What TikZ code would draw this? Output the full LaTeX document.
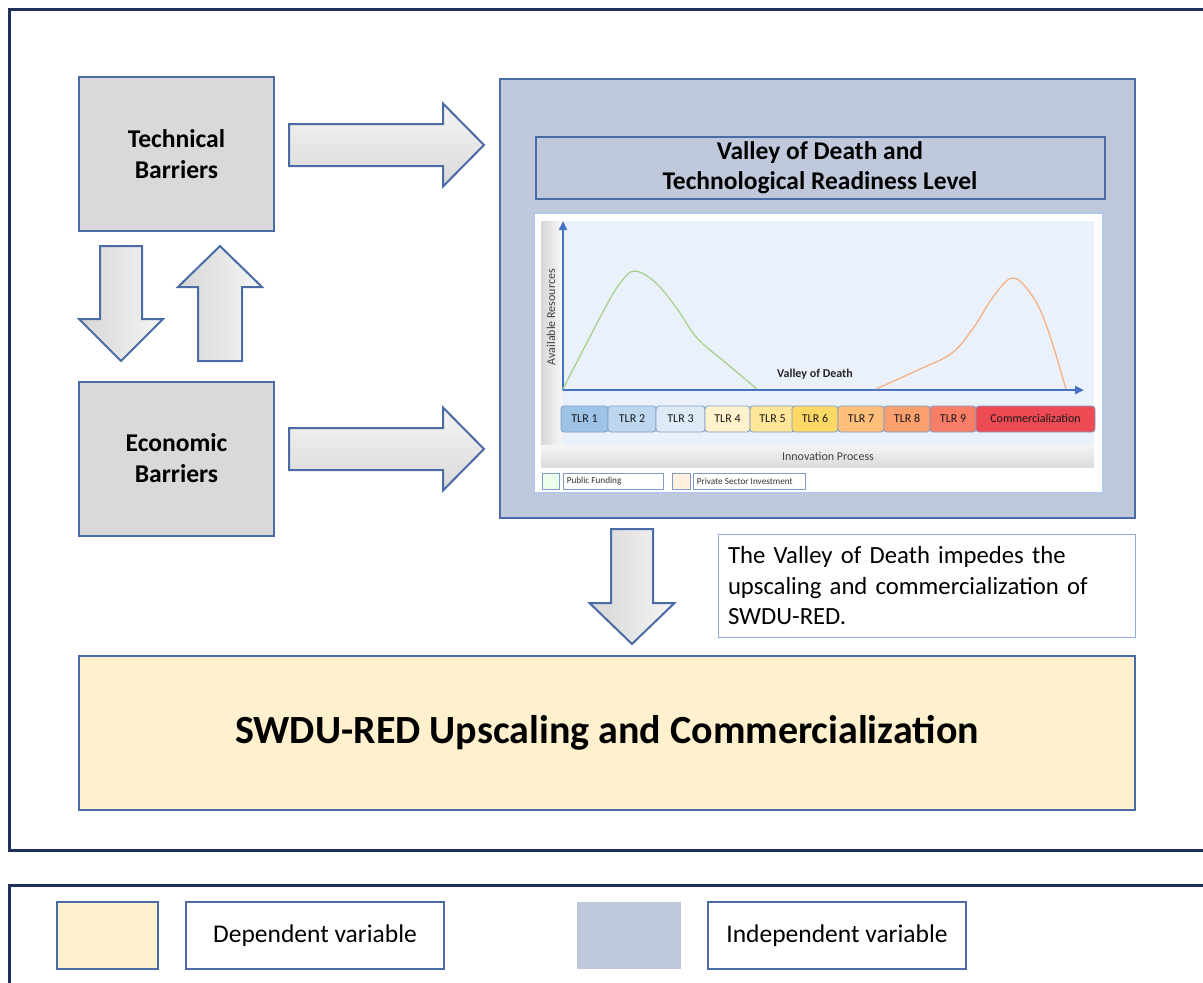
\documentclass[tikz,border=0pt]{standalone}
\usepackage{fontspec}
\setmainfont{Carlito}
\usetikzlibrary{calc,arrows.meta}

\definecolor{frameblue}{HTML}{1F3158}
\definecolor{boxline}{HTML}{4A6CA6}
\definecolor{indep}{HTML}{C0C9DC}
\definecolor{dep}{HTML}{FFF1CE}
\definecolor{barrier}{HTML}{D9D9D9}
\definecolor{noteline}{HTML}{8FAADC}
\definecolor{chartline}{HTML}{B4C7E7}
\definecolor{chartbg}{HTML}{EAF1FA}
\definecolor{axisblue}{HTML}{4472C4}
\definecolor{curvegreen}{HTML}{A9D18E}
\definecolor{curveorange}{HTML}{F4B183}
\definecolor{tlrline}{HTML}{7F9CC8}
\definecolor{tA}{HTML}{9DC3E6}
\definecolor{tB}{HTML}{BDD7EE}
\definecolor{tC}{HTML}{DEEBF7}
\definecolor{tD}{HTML}{FFF2CC}
\definecolor{tE}{HTML}{FFE699}
\definecolor{tF}{HTML}{FFD966}
\definecolor{tG}{HTML}{FFBE7A}
\definecolor{tH}{HTML}{FA9F6E}
\definecolor{tI}{HTML}{F97E67}
\definecolor{tJ}{HTML}{EE4A54}

% block arrow: [style]{tail}{tip}{shaft half width}{head half width}{head length}
\newcommand\blockarrow[6][]{%
  \coordinate (ba-h) at ($(#3)!#6!(#2)$);
  \draw[blockarrow,#1] ($(#2)!#4!90:(#3)$) -- ($(ba-h)!#4!-90:(#2)$)
    -- ($(ba-h)!#5!-90:(#2)$) -- (#3) -- ($(ba-h)!#5!90:(#2)$)
    -- ($(ba-h)!#4!90:(#2)$) -- ($(#2)!#4!-90:(#3)$) -- cycle;}

\begin{document}
\begin{tikzpicture}[x=1pt,y=-1pt,
  box/.style={draw=boxline,line width=2pt,inner sep=0pt,align=center},
  frame/.style={draw=frameblue,line width=3pt},
  blockarrow/.style={draw=boxline,line width=2pt,line join=miter},
  harrow/.style={top color=gray!8,bottom color=gray!30},
  varrow/.style={left color=gray!32,right color=gray!8},
  tlr/.style={draw=tlrline,line width=0.8pt,rounded corners=3pt,inner sep=0pt,
    minimum height=26pt,text height=8pt,text depth=1pt,
    font=\fontsize{12}{14}\selectfont,text=black!90},
  keybox/.style={draw=tlrline,line width=0.8pt,inner sep=0pt,minimum height=16pt},
  keytext/.style={font=\fontsize{9.2}{11}\selectfont,text=black!80,inner sep=0pt,anchor=west},
  barrierfont/.style={font=\bfseries\fontsize{25.6}{31}\selectfont},
  legendtext/.style={font=\fontsize{25.5}{30}\selectfont}]

\clip (0,0) rectangle (1203,983);
\fill[white] (0,0) rectangle (1203,983);

% frames
\draw[frame] (9,9) rectangle (1220,850);
\draw[frame] (9,885) rectangle (1220,1000);

% barrier boxes
\node[box,fill=barrier,minimum width=195pt,minimum height=154pt,barrierfont]
  (tech) at (176.5,154) {Technical\\Barriers};
\node[box,fill=barrier,minimum width=195pt,minimum height=154pt,barrierfont]
  (econ) at (176.5,458.5) {Economic\\Barriers};

% valley of death panel
\node[box,fill=indep,minimum width=635pt,minimum height=439pt] (vod) at (817.5,298.5) {};
\node[box,fill=indep,minimum width=569pt,minimum height=62pt,
  font=\bfseries\fontsize{25.5}{30}\selectfont] (vodtitle) at (820,168)
  {Valley of Death and\\Technological Readiness Level};
\node[draw=chartline,fill=white,line width=1.2pt,inner sep=0pt,
  minimum width=569pt,minimum height=280pt] (chart) at (818.5,353) {};

% chart interior
\fill[chartbg] (541,221) rectangle (1094,445);
\shade[left color=gray!32,right color=gray!6] (541,221) rectangle (562,445);
\shade[top color=gray!8,bottom color=gray!28] (541,445) rectangle (1094,467);
\node[font=\fontsize{12}{14}\selectfont,text=black!75] (innov) at (828,456) {Innovation Process};

\coordinate (ax0) at (563,390);
\coordinate (axy) at (563,221);
\coordinate (axx) at (1084,390);
\draw[axisblue,line width=2.5pt,-{Triangle[length=9pt,width=8pt]}] (ax0) -- (axy);
\draw[axisblue,line width=2.5pt,-{Triangle[length=9pt,width=8pt]}] (ax0) -- (axx);
\node[rotate=90,font=\fontsize{12}{14}\selectfont,text=black!75] (avail) at (551,317) {Available Resources};
\node[font=\bfseries\fontsize{12}{14}\selectfont,text=black!85] (vodlabel) at (815,374) {Valley of Death};

\draw[curvegreen,line width=1.3pt] plot[smooth,tension=0.6] coordinates
  {(563,389) (604,310) (621,282) (635,271) (656,283) (678,310) (697,338) (726,363) (757,389)};
\draw[curveorange,line width=1.3pt] plot[smooth,tension=0.6] coordinates
  {(876,389) (918,370) (952,353) (974,327) (993,297) (1013,278) (1033,297) (1048,330) (1066,389)};

% readiness levels
\foreach \n/\xa/\xb/\c/\t in {1/561/608/tA/TLR 1,2/608/656/tB/TLR 2,3/656/705/tC/TLR 3,
    4/705/750/tD/TLR 4,5/750/795/tE/TLR 5,6/792/838/tF/TLR 6,7/838/884/tG/TLR 7,
    8/884/930/tH/TLR 8,9/930/976/tI/TLR 9,10/976/1095/tJ/Commercialization}
  \node[tlr,fill=\c,minimum width={\xb-\xa}] (tlr\n) at ({(\xa+\xb)/2},419) {\t};

% chart key
\node[keybox,fill=green!8,minimum width=17pt] (pubsq) at (550.5,481) {};
\node[keybox,fill=white,minimum width=100pt] (pubbox) at (613,481) {};
\node[keytext] (publbl) at ([xshift=4pt]pubbox.west) {Public Funding};
\node[keybox,fill=orange!12,minimum width=18pt] (privsq) at (681,481) {};
\node[keybox,fill=white,minimum width=112pt] (privbox) at (749,481) {};
\node[keytext] (privlbl) at ([xshift=4pt]privbox.west) {Private Sector Investment};

% note
\node[draw=noteline,fill=white,line width=1.5pt,inner sep=0pt,minimum width=417pt,minimum height=103pt,
  text width=398pt,align=left,font=\fontsize{24.7}{30.5}\selectfont] (note) at (927,586)
  {The Valley of Death impedes the\\upscaling and commercialization of\\SWDU-RED.};

% outcome
\node[box,fill=dep,minimum width=1056pt,minimum height=154pt,
  font=\bfseries\fontsize{40}{44}\selectfont] (swdu) at (607,733)
  {SWDU-RED Upscaling and Commercialization};

% block arrows
\coordinate (t1) at (289,145); \coordinate (h1) at (484,145);
\coordinate (t2) at (289,449); \coordinate (h2) at (484,449);
\coordinate (t3) at (121,246); \coordinate (h3) at (121,361);
\coordinate (t4) at (220,361); \coordinate (h4) at (220,246);
\coordinate (t5) at (632,529); \coordinate (h5) at (632,644);
\blockarrow[harrow]{t1}{h1}{21pt}{41.5pt}{41pt}
\blockarrow[harrow]{t2}{h2}{21pt}{41.5pt}{41pt}
\blockarrow[varrow]{t3}{h3}{21pt}{42pt}{42pt}
\blockarrow[varrow]{t4}{h4}{22pt}{42pt}{41pt}
\blockarrow[varrow]{t5}{h5}{21pt}{42.5pt}{41pt}

% legend
\node[box,fill=dep,minimum width=101pt,minimum height=67pt] (depsq) at (107.5,935.5) {};
\node[box,fill=white,minimum width=258pt,minimum height=67pt,legendtext] (deplbl) at (315,935.5) {Dependent variable};
\node[fill=indep,inner sep=0pt,minimum width=104pt,minimum height=67pt] (indsq) at (629,935.5) {};
\node[box,fill=white,minimum width=258pt,minimum height=67pt,legendtext] (indlbl) at (837,935.5) {Independent variable};
\end{tikzpicture}
\end{document}
